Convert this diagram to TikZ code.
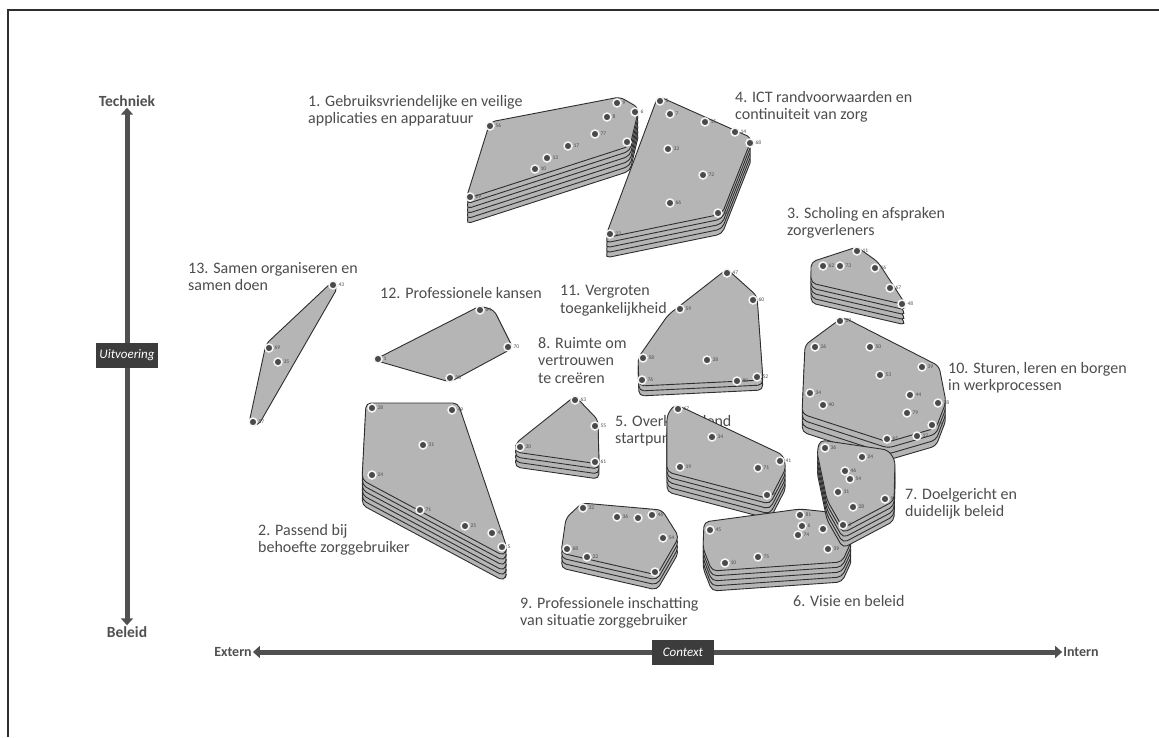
\documentclass[tikz,border=0pt]{standalone}
\usepackage{fontspec}
\setmainfont{Carlito}
\usetikzlibrary{arrows.meta}
\definecolor{clusgrey}{HTML}{B5B5B5}
\definecolor{edgec}{HTML}{2E2E2E}
\definecolor{txt}{HTML}{4D4D4D}
\definecolor{axisc}{HTML}{505050}
\definecolor{boxc}{HTML}{3C3C3C}
\definecolor{dotc}{HTML}{4A4A4A}
\newcommand\stackclus[3]{%
  \foreach \k in {#1,...,1}{\path[clus,yshift={-\k*#2}] #3;}%
  \path[clus] #3;}
\newcommand\pp[3]{\node[dotpt,label={[numl]right:#3}] (#1) at (#2) {};}
\tikzset{
  clus/.style={fill=clusgrey, draw=edgec, line width=0.9pt, rounded corners=5pt},
  dotpt/.style={circle, fill=dotc, draw=white!92!gray, line width=1.5pt, inner sep=0pt, minimum size=8pt},
  numl/.style={font=\fontsize{5.5}{6}\selectfont, text=txt, inner sep=0.6pt},
  lbl/.style={font=\fontsize{16}{17.5}\selectfont, text=txt, align=left, anchor=north west, inner sep=0pt},
  axlbl/.style={font=\fontsize{15.5}{17}\selectfont\bfseries, text=axisc, inner sep=1pt},
  axlblh/.style={font=\fontsize{14}{16}\selectfont\bfseries, text=axisc, inner sep=1pt},
  axbox/.style={fill=boxc, text=white, font=\fontsize{13}{15}\selectfont\itshape, minimum width=62pt, minimum height=25pt, inner sep=0pt},
  axarrow/.style={draw=axisc, line width=5pt, {Triangle[length=7pt,width=12pt]}-{Triangle[length=7pt,width=12pt]}}
}
\begin{document}
\begin{tikzpicture}[x=1pt,y=-1pt]
\useasboundingbox (0,0) rectangle (1159,737);
\fill[white] (0,0) rectangle (1159,737);
\draw[edgec, line width=1.5pt] (8,737) -- (8,10) -- (1159,10);

% axes
\node[axlbl] (tech) at (127,101) {Techniek};
\node[axlbl] (bel) at (127,632) {Beleid};
\node[axlblh] (ext) at (233,652) {Extern};
\node[axlblh] (int) at (1081,652) {Intern};
\draw[axarrow] (tech.south) -- (bel.north);
\draw[axarrow] (ext.east) -- (int.west);
\node[axbox] (uit) at (127,355) {Uitvoering};
\node[axbox] (ctx) at (683,652) {Context};

% cluster labels
\node[lbl] (l1) at (308,95) {1. Gebruiksvriendelijke en veilige\\applicaties en apparatuur};
\node[lbl] (l4) at (735,91) {4. ICT randvoorwaarden en\\continuiteit van zorg};
\node[lbl] (l3) at (787,207) {3. Scholing en afspraken\\zorgverleners};
\node[lbl] (l13) at (188,262) {13. Samen organiseren en\\samen doen};
\node[lbl] (l12) at (380,287) {12. Professionele kansen};
\node[lbl] (l11) at (560,285) {11. Vergroten\\toegankelijkheid};
\node[lbl] (l8) at (538,337) {8. Ruimte om\\vertrouwen\\te creëren};
\node[lbl] (l10) at (948,362) {10. Sturen, leren en borgen\\in werkprocessen};
\node[lbl] (l5) at (615,415) {5. Overkoepelend\\startpunt};
\node[lbl] (l7) at (905,488) {7. Doelgericht en\\duidelijk beleid};
\node[lbl] (l2) at (258,524) {2. Passend bij\\behoefte zorggebruiker};
\node[lbl] (l6) at (793,595) {6. Visie en beleid};
\node[lbl] (l9) at (520,597) {9. Professionele inschatting\\van situatie zorggebruiker};

% cluster 13
\path[clus] (332,282) -- (338,287) -- (258,426) -- (249,423) -- (266,344) -- cycle;
\pp{a1}{333,285}{43}\pp{a2}{269,348}{69}\pp{a3}{278,362}{35}\pp{a4}{253,422}{57}
% cluster 12
\path[clus] (374,360) -- (480,306) -- (494,310) -- (513,348) -- (450,382) -- cycle;
\pp{b1}{378,359}{1}\pp{b2}{480,310}{64}\pp{b3}{508,347}{70}\pp{b4}{450,378}{20}
% cluster 1
\stackclus{5}{5pt}{(490,122) -- (620,97) -- (639,108) -- (630,146) -- (466,199) -- cycle}
\pp{c1}{490,126}{56}\pp{c2}{617,103}{9}\pp{c3}{635,112}{6}\pp{c4}{607,117}{8}
\pp{c5}{595,134}{77}\pp{c6}{568,146}{17}\pp{c7}{547,158}{13}\pp{c8}{535,169}{10}
\pp{c9}{627,142}{2}\pp{c10}{470,197}{29}
% cluster 4
\stackclus{4}{5pt}{(658,96) -- (752,138) -- (722,214) -- (605,238) -- cycle}
\pp{d1}{660,101}{3}\pp{d2}{670,114}{7}\pp{d3}{705,122}{15}\pp{d4}{735,132}{14}
\pp{d5}{750,143}{68}\pp{d6}{668,149}{33}\pp{d7}{703,175}{72}\pp{d8}{670,203}{66}
\pp{d9}{718,213}{18}\pp{d10}{610,234}{23}
% cluster 3
\stackclus{4}{5pt}{(811,262) -- (857,247) -- (878,262) -- (906,305) -- (811,283) -- cycle}
\pp{e1}{857,251}{11}\pp{e2}{823,266}{62}\pp{e3}{840,266}{73}\pp{e4}{875,268}{16}
\pp{e5}{890,288}{67}\pp{e6}{902,304}{48}
% cluster 11
\stackclus{2}{5pt}{(727,269) -- (757,296) -- (763,380) -- (639,386) -- (638,358) -- (668,315) -- cycle}
\pp{f1}{727,273}{47}\pp{f2}{753,300}{60}\pp{f3}{680,309}{59}\pp{f4}{643,358}{58}
\pp{f5}{707,360}{38}\pp{f6}{642,380}{76}\pp{f7}{737,381}{80}\pp{f8}{757,377}{52}
% cluster 10
\stackclus{3}{6pt}{(843,317) -- (939,366) -- (946,402) -- (936,428) -- (888,442) -- (802,414) -- (805,345) -- cycle}
\pp{g1}{840,321}{27}\pp{g2}{815,347}{26}\pp{g3}{870,347}{50}\pp{g4}{922,367}{39}
\pp{g5}{880,375}{53}\pp{g6}{810,393}{34}\pp{g7}{823,405}{40}\pp{g8}{910,395}{44}
\pp{g9}{938,403}{78}\pp{g10}{907,413}{79}\pp{g11}{932,425}{21}\pp{g12}{887,439}{65}
\pp{g13}{917,436}{12}
% cluster 2
\stackclus{5}{5pt}{(366,403) -- (458,403) -- (507,548) -- (504,556) -- (362,480) -- cycle}
\pp{h1}{372,408}{28}\pp{h2}{452,410}{49}\pp{h3}{423,445}{31}\pp{h4}{372,475}{24}
\pp{h5}{420,510}{71}\pp{h6}{465,526}{25}\pp{h7}{492,533}{42}\pp{h8}{502,547}{5}
% cluster 8
\stackclus{3}{5pt}{(575,396) -- (598,420) -- (599,464) -- (515,452) -- (516,443) -- cycle}
\pp{i1}{575,400}{63}\pp{i2}{595,426}{55}\pp{i3}{520,447}{30}\pp{i4}{595,462}{61}
% cluster 5
\stackclus{4}{5pt}{(675,404) -- (783,455) -- (786,468) -- (770,499) -- (667,472) -- (667,415) -- cycle}
\pp{j1}{678,409}{67}\pp{j2}{712,437}{34}\pp{j3}{680,467}{19}\pp{j4}{758,468}{71}
\pp{j5}{780,461}{41}\pp{j6}{767,495}{4}
% cluster 9
\stackclus{3}{5pt}{(582,503) -- (662,510) -- (679,537) -- (657,575) -- (561,553) -- (566,518) -- cycle}
\pp{k1}{583,508}{32}\pp{k2}{617,517}{36}\pp{k3}{638,518}{}\pp{k4}{652,515}{46}
\pp{k5}{663,538}{54}\pp{k6}{567,549}{68}\pp{k7}{587,557}{22}\pp{k8}{655,572}{}
% cluster 6
\stackclus{4}{5pt}{(704,522) -- (800,509) -- (838,513) -- (852,540) -- (842,562) -- (712,571) -- (703,548) -- cycle}
\pp{m1}{710,530}{45}\pp{m2}{800,515}{81}\pp{m3}{802,526}{6}\pp{m4}{798,535}{74}
\pp{m5}{823,529}{}\pp{m6}{828,549}{39}\pp{m7}{758,557}{75}\pp{m8}{725,563}{10}
% cluster 7
\stackclus{4}{5pt}{(820,440) -- (888,450) -- (895,460) -- (894,501) -- (843,528) -- (827,500) -- (817,452) -- cycle}
\pp{n1}{825,448}{36}\pp{n2}{862,457}{24}\pp{n3}{845,471}{46}\pp{n4}{850,479}{54}
\pp{n5}{838,492}{31}\pp{n6}{885,499}{9}\pp{n7}{853,507}{28}\pp{n8}{843,525}{3}
\end{tikzpicture}
\end{document}
